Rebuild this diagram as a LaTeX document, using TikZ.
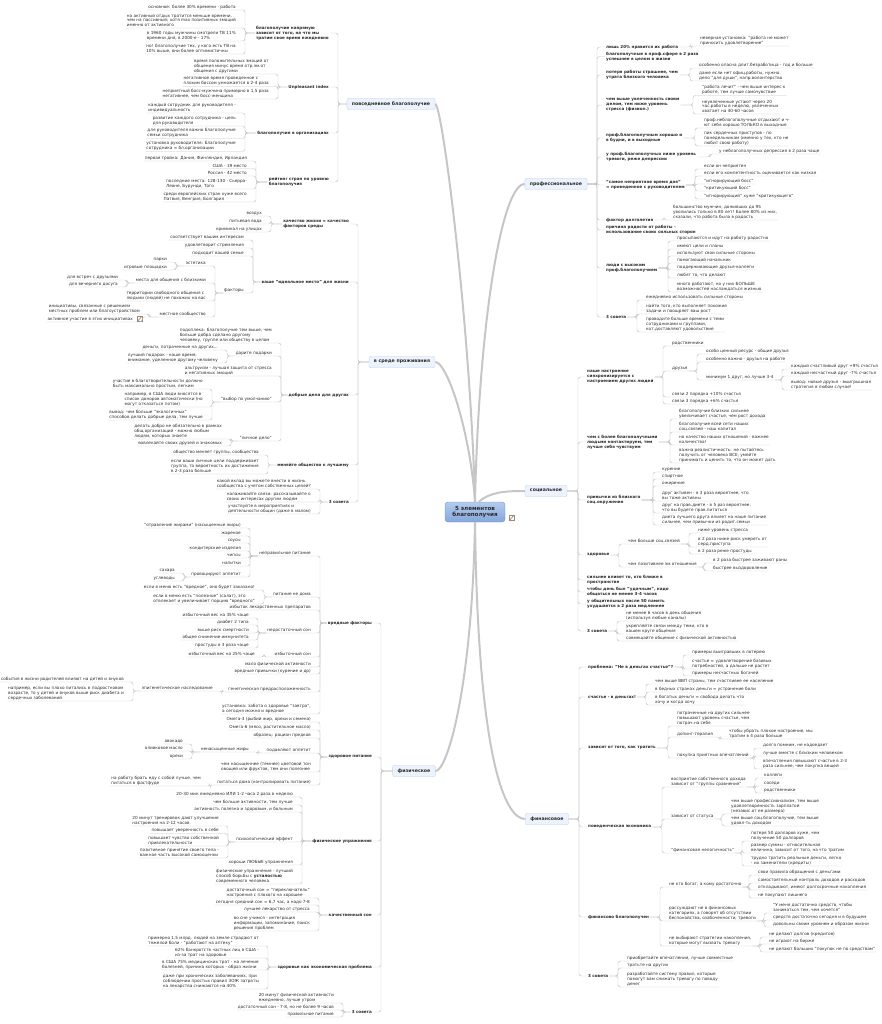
\documentclass[tikz,border=0pt]{standalone}
\usepackage{fontspec}
\setmainfont{DejaVu Sans}
\usepackage{xcolor}
\usepackage{tikz}
\usetikzlibrary{calc}

\definecolor{linkgray}{HTML}{C4C4C4}
\definecolor{trunkgray}{HTML}{C6C6C6}
\definecolor{boxfill}{HTML}{EDF3FC}
\definecolor{boxline}{HTML}{C5D5EE}
\definecolor{roottop}{HTML}{B3CBEF}
\definecolor{rootbot}{HTML}{86A7DB}
\definecolor{rootline}{HTML}{7093CA}
\definecolor{ink}{HTML}{2A2A2A}

\begin{document}
\begin{tikzpicture}[
    x=1pt, y=-1pt,
    leaf/.style={font=\fontsize{4.2}{4.9}\selectfont, text=ink, inner xsep=1pt, inner ysep=0.9pt, align=left},
    topic/.style={leaf, font=\fontsize{4.1}{4.9}\selectfont\bfseries},
    branch/.style={draw=boxline, fill=boxfill, rounded corners=2pt, font=\fontsize{4.7}{5.6}\selectfont\bfseries, text=ink, inner xsep=5pt, minimum height=11.5pt},
    root/.style={draw=rootline, top color=roottop, bottom color=rootbot, rounded corners=3pt, font=\fontsize{5.6}{6.6}\selectfont\bfseries, text=ink, align=center, minimum width=60pt, minimum height=20pt},
    memo/.style={draw=black!45, fill=white, minimum width=4.5pt, minimum height=5pt, inner sep=0pt, path picture={\draw[orange!80!black, line width=0.6pt] (path picture bounding box.south west) -- (path picture bounding box.north east);}},
    link/.style={draw=linkgray, line width=0.45pt},
    trunk/.style={draw=trunkgray, line width=2pt},
    lleaf/.style={rounded corners=2.5pt, to path={-- ([xshift=8pt]\tikztotarget.south east |- \tikztostart) |- (\tikztotarget.south east) -- (\tikztotarget.south west)}},
    rleaf/.style={rounded corners=2.5pt, to path={-- ([xshift=-8pt]\tikztotarget.south west |- \tikztostart) |- (\tikztotarget.south west) -- (\tikztotarget.south east)}},
    ltopic/.style={rounded corners=2.5pt, to path={-- ([xshift=8pt]\tikztotarget.east |- \tikztostart) |- (\tikztotarget.east)}},
    rtopic/.style={rounded corners=2.5pt, to path={-- ([xshift=-8pt]\tikztotarget.west |- \tikztostart) |- (\tikztotarget.west)}}
]
\useasboundingbox (0,0) rectangle (881,1024);

% Nodes: centre and branches
\node[root] (root) at (475,512) {5 элементов\\благополучия};
\node[memo] (memo1) at (511.5,518) {};
\node[branch] (pov) at (391,104) {повседневное благополучие};
\node[branch] (sre) at (402,362) {в среде проживания};
\node[branch] (fiz) at (414,771) {физическое};
\node[branch] (prof) at (556,184) {профессиональное};
\node[branch] (soc) at (546,491) {социальное};
\node[branch] (fin) at (547,819) {финансовое};

% Nodes: повседневное благополучие
\node[topic, anchor=east] (pov1) at (330,33) {благополучие напрямую\\зависит от того, на что мы\\тратим свое время ежедневно};
\node[topic, anchor=east] (pov2) at (330,87) {Unpleasant index};
\node[topic, anchor=east] (pov3) at (330,133) {благополучие в организациях};
\node[topic, anchor=east] (pov4) at (330,182) {рейтинг стран по уровню\\благополучия};
\node[leaf, anchor=south east] (pov1a) at (237,10) {основное: более 30\% времени - работа};
\node[leaf, anchor=south east] (pov1b) at (237,28) {на активный отдых тратится меньше времени,\\чем на пассивный; хотя max позитивных эмоций\\именно от активного};
\node[leaf, anchor=south east] (pov1c) at (237,41) {в 1960 годы мужчины смотрели ТВ 11\%\\времени дня, в 2000-е - 17\%};
\node[leaf, anchor=south east] (pov1d) at (237,54) {но! благополучие тех, у кого есть ТВ на\\10\% выше, они более оптимистичны};
\node[leaf, anchor=south east] (pov2a) at (270,74) {время положительных эмоций от\\общения минус время отр.эм.от\\общения с другими};
\node[leaf, anchor=south east] (pov2b) at (270,86.5) {негативное время проведенное с\\плохим боссом умножается в 2-4 раза};
\node[leaf, anchor=south east] (pov2c) at (270,99) {неприятный босс-мужчина примерно в 1,5 раза\\негативнее, чем босс-женщина};
\node[leaf, anchor=south east] (pov3a) at (237,113) {каждый сотрудник для руководителя -\\индивидуальность};
\node[leaf, anchor=south east] (pov3b) at (237,126) {развитие каждого сотрудника - цель\\для руководителя};
\node[leaf, anchor=south east] (pov3c) at (237,138.5) {для руководителя важно благополучие\\семьи сотрудника};
\node[leaf, anchor=south east] (pov3d) at (237,151.5) {установка руководителя: благополучие\\сотрудника = бл.организации};
\node[leaf, anchor=south east] (pov4a) at (248,161) {первая тройка: Дания, Финляндия, Ирландия};
\node[leaf, anchor=south east] (pov4b) at (248,168.5) {США - 19 место};
\node[leaf, anchor=south east] (pov4c) at (248,176) {Россия - 42 место};
\node[leaf, anchor=south east] (pov4d) at (248,189) {последние места: 128-130 - Сьерра-\\Леоне, Бурунди, Того};
\node[leaf, anchor=south east] (pov4e) at (248,202) {среди европейских стран хуже всего\\Латвия, Венгрия, Болгария};

% Nodes: в среде проживания
\node[topic, anchor=east] (sre1) at (350,224) {качество жизни = качество\\факторов среды};
\node[topic, anchor=east] (sre2) at (350,282) {ваше "идеальное место" для жизни};
\node[topic, anchor=east] (sre3) at (350,395) {добрые дела для других};
\node[topic, anchor=east] (sre4) at (350,465) {меняйте общество к лучшему};
\node[topic, anchor=east] (sre5) at (350,502) {3 совета};
\node[leaf, anchor=south east] (sre1a) at (263,216) {воздух};
\node[leaf, anchor=south east] (sre1b) at (263,224) {питьевая вода};
\node[leaf, anchor=south east] (sre1c) at (263,232) {криминал на улицах};
\node[leaf, anchor=south east] (sre2a) at (245,240) {соответствует вашим интересам};
\node[leaf, anchor=south east] (sre2b) at (245,248) {удовлетворит стремления};
\node[leaf, anchor=south east] (sre2c) at (245,256) {подходит вашей семье};
\node[leaf, anchor=south east] (sre2d) at (245,293) {факторы};
\node[leaf, anchor=south east] (sre2d1) at (207,266) {эстетика};
\node[leaf, anchor=south east] (sre2d2) at (207,283) {места для общения с близкими};
\node[leaf, anchor=south east] (sre2d3) at (207,301) {территории свободного общения с\\людьми (людей) не похожих на вас};
\node[leaf, anchor=south east] (sre2d4) at (207,317) {местное сообщество};
\node[leaf, anchor=south east] (sre2d1a) at (168,262) {парки};
\node[leaf, anchor=south east] (sre2d1b) at (168,270) {игровые площадки};
\node[leaf, anchor=south east] (sre2d2a) at (119,280) {для встреч с друзьями};
\node[leaf, anchor=south east] (sre2d2b) at (119,287) {для вечернего досуга};
\node[leaf, anchor=south east] (sre2d4a) at (141,314) {инициативы, связанные с решением\\местных проблем или благоустройством};
\node[leaf, anchor=south east] (sre2d4b) at (134,322) {активное участие в этих инициативах};
\node[memo] (memo2) at (139.5,319) {};
\node[leaf, anchor=south east] (sre3a) at (273,343) {подоплека: благополучие тем выше, чем\\больше добра сделано другому\\человеку, группе или обществу в целом};
\node[leaf, anchor=south east] (sre3b) at (273,356) {дарите подарки};
\node[leaf, anchor=south east] (sre3c) at (273,376) {альтруизм - лучшая защита от стресса\\и негативных эмоций};
\node[leaf, anchor=south east] (sre3d) at (273,402) {"выбор по умолчанию"};
\node[leaf, anchor=south east] (sre3e) at (273,441) {"личное дело"};
\node[leaf, anchor=south east] (sre3b1) at (219,350) {деньги, потраченные на других...};
\node[leaf, anchor=south east] (sre3b2) at (219,363) {лучший подарок - наше время;\\внимание, уделенное другому человеку};
\node[leaf, anchor=south east] (sre3d1) at (204,389) {участие в благотворительности должно\\быть максимально простым, легким};
\node[leaf, anchor=south east] (sre3d2) at (204,407) {например, в США люди вносятся в\\список доноров автоматически (но\\могут отказаться потом)};
\node[leaf, anchor=south east] (sre3d3) at (204,420) {вывод: чем больше "экологичных"\\способов делать добрые дела, тем лучше};
\node[leaf, anchor=south east] (sre3e1) at (223,439) {делать добро не обязательно в рамках\\общ.организаций - можно любым\\людям, которых знаете};
\node[leaf, anchor=south east] (sre3e2) at (223,446) {вовлекайте своих друзей и знакомых};
\node[leaf, anchor=south east] (sre4a) at (260,455) {общество меняет группы, сообщества};
\node[leaf, anchor=south east] (sre4b) at (260,474) {если ваши личные цели поддерживает\\группа, то вероятность их достижения\\в 2-3 раза больше};
\node[leaf, anchor=south east] (sre5a) at (312,489) {какой вклад вы можете внести в жизнь\\сообщества с учетом собственных целей?};
\node[leaf, anchor=south east] (sre5b) at (312,502) {налаживайте связи: рассказывайте о\\своих интересах другим людям};
\node[leaf, anchor=south east] (sre5c) at (312,514) {участвуйте в мероприятиях и\\деятельности общин (даже в малом)};

% Nodes: физическое
\node[topic, anchor=east] (fiz1) at (373,623) {вредные факторы};
\node[topic, anchor=east] (fiz2) at (373,757) {здоровое питание};
\node[topic, anchor=east] (fiz3) at (373,841) {физические упражнения};
\node[topic, anchor=east] (fiz4) at (373,915) {качественный сон};
\node[topic, anchor=east] (fiz5) at (373,967) {здоровье как экономическая проблема};
\node[topic, anchor=east] (fiz6) at (373,1012) {3 совета};
\node[leaf, anchor=south east] (fiz1a) at (312,556) {неправильное питание};
\node[leaf, anchor=south east] (fiz1b) at (312,597) {питание не дома};
\node[leaf, anchor=south east] (fiz1c) at (312,610) {избыток лекарственных препаратов};
\node[leaf, anchor=south east] (fiz1d) at (312,633) {недостаточный сон};
\node[leaf, anchor=south east] (fiz1e) at (312,657) {избыточный сон};
\node[leaf, anchor=south east] (fiz1f) at (312,667) {мало физической активности};
\node[leaf, anchor=south east] (fiz1g) at (312,674) {вредные привычки (курение и др)};
\node[leaf, anchor=south east] (fiz1h) at (312,692) {генетическая предрасположенность};
\node[leaf, anchor=south east] (fiz1i) at (312,714) {установка: забота о здоровье "завтра",\\а сегодня можно и вредное};
\node[leaf, anchor=south east] (fiz1a1) at (242,528) {"отравление жирами" (насыщенные жиры)};
\node[leaf, anchor=south east] (fiz1a2) at (242,536) {жареное};
\node[leaf, anchor=south east] (fiz1a3) at (242,543) {соусы};
\node[leaf, anchor=south east] (fiz1a4) at (242,551) {кондитерские изделия};
\node[leaf, anchor=south east] (fiz1a5) at (242,558) {чипсы};
\node[leaf, anchor=south east] (fiz1a6) at (242,566) {напитки};
\node[leaf, anchor=south east] (fiz1a7) at (242,577) {провоцируют аппетит};
\node[leaf, anchor=south east] (fiz1a7a) at (176,573) {сахара};
\node[leaf, anchor=south east] (fiz1a7b) at (176,581) {углеводы};
\node[leaf, anchor=south east] (fiz1b1) at (256,590) {если в меню есть "вредное", оно будет заказано!};
\node[leaf, anchor=south east] (fiz1b2) at (256,604) {если в меню есть "полезное" (салат), это\\отвлекает и увеличивает порцию "вредного"};
\node[leaf, anchor=south east] (fiz1d1) at (250,618) {избыточный вес на 35\% чаще};
\node[leaf, anchor=south east] (fiz1d2) at (250,625) {диабет 2 типа};
\node[leaf, anchor=south east] (fiz1d3) at (250,633) {выше риск смертности};
\node[leaf, anchor=south east] (fiz1d4) at (250,640) {общее снижение иммунитета};
\node[leaf, anchor=south east] (fiz1d5) at (250,648) {простуды в 3 раза чаще};
\node[leaf, anchor=south east] (fiz1e1) at (256,657) {избыточный вес на 25\% чаще};
\node[leaf, anchor=south east] (fiz1h1) at (214,691) {эпигенетическое наследование};
\node[leaf, anchor=south east] (fiz1h1a) at (125,682) {события в жизни родителей влияют на детей и внуков};
\node[leaf, anchor=south east] (fiz1h1b) at (125,701) {например, если вы плохо питались в подростковом\\возрасте, то у детей и внуков выше риск диабета и\\сердечных заболеваний};
\node[leaf, anchor=south east] (fiz2a) at (312,722) {Омега-3 (рыбий жир, орехи и семена)};
\node[leaf, anchor=south east] (fiz2b) at (312,730) {Омега-6 (мясо, растительное масло)};
\node[leaf, anchor=south east] (fiz2c) at (312,738) {образец: рацион предков};
\node[leaf, anchor=south east] (fiz2d) at (312,753) {подавляют аппетит};
\node[leaf, anchor=south east] (fiz2e) at (312,772) {чем насыщеннее (темнее) цветовой тон\\овощей или фруктов, тем они полезнее};
\node[leaf, anchor=south east] (fiz2f) at (312,785) {питаться дома (контролировать питание)};
\node[leaf, anchor=south east] (fiz2d1) at (250,752) {ненасыщенные жиры};
\node[leaf, anchor=south east] (fiz2d1a) at (184,744) {авокадо};
\node[leaf, anchor=south east] (fiz2d1b) at (184,751) {оливковое масло};
\node[leaf, anchor=south east] (fiz2d1c) at (184,759) {орехи};
\node[leaf, anchor=south east] (fiz2f1) at (202,786) {на работу брать еду с собой лучше, чем\\питаться в фастфуде};
\node[leaf, anchor=south east] (fiz3a) at (294,797) {20-30 мин ежедневно ИЛИ 1-2 часа 2 раза в неделю};
\node[leaf, anchor=south east] (fiz3b) at (294,805) {чем больше активности, тем лучше};
\node[leaf, anchor=south east] (fiz3c) at (294,812) {активность полезна и здоровым, и больным};
\node[leaf, anchor=south east] (fiz3d) at (294,842) {психологический эффект};
\node[leaf, anchor=south east] (fiz3e) at (294,865) {хороши ЛЮБЫЕ упражнения};
\node[leaf, anchor=south east] (fiz3f) at (294,884) {физические упражнения - лучший\\способ борьбы с \textbf{усталостью}\\современного человека};
\node[leaf, anchor=south east] (fiz3d1) at (220,826) {20 минут тренировок дают улучшение\\настроения на 2-12 часов};
\node[leaf, anchor=south east] (fiz3d2) at (220,833.5) {повышает уверенность в себе};
\node[leaf, anchor=south east] (fiz3d3) at (220,846) {повышает чувство собственной\\привлекательности};
\node[leaf, anchor=south east] (fiz3d4) at (220,858) {позитивное принятие своего тела -\\важная часть высокой самооценки};
\node[leaf, anchor=south east] (fiz4a) at (311,898) {достаточный сон = "переключатель"\\настроения с плохого на хорошее};
\node[leaf, anchor=south east] (fiz4b) at (311,905) {сегодня средний сон = 6,7 час, а надо 7-8};
\node[leaf, anchor=south east] (fiz4c) at (311,912) {лучшее лекарство от стресса};
\node[leaf, anchor=south east] (fiz4d) at (311,931) {во сне учимся - интеграция\\информации, запоминание, поиск\\решения проблем};
\node[leaf, anchor=south east] (fiz5a) at (260,946) {примерно 1,5 млрд. людей на земле страдают от\\тяжелой боли - "работают на аптеку"};
\node[leaf, anchor=south east] (fiz5b) at (260,958) {62\% банкротств частных лиц в США -\\из-за трат на здоровье};
\node[leaf, anchor=south east] (fiz5c) at (260,970) {в США 75\% медицинских трат - на лечение\\болезней, причина которых - образ жизни};
\node[leaf, anchor=south east] (fiz5d) at (260,989) {даже при хронических заболеваниях, при\\соблюдении простых правил ЗОЖ затраты\\на лекарства снижаются на 40\%};
\node[leaf, anchor=south east] (fiz6a) at (335,1003) {20 минут физической активности\\ежедневно, лучше утром};
\node[leaf, anchor=south east] (fiz6b) at (335,1010) {достаточный сон - 7-8, но не более 9 часов};
\node[leaf, anchor=south east] (fiz6c) at (335,1017) {правильное питание};

% Nodes: профессиональное
\node[topic, anchor=west] (prof1) at (605,47) {лишь 20\% нравится их работа};
\node[topic, anchor=west] (prof2) at (605,56.5) {благополучные в проф.сфере в 2 раза\\успешнее в целом в жизни};
\node[topic, anchor=west] (prof3) at (605,75) {потеря работы страшнее, чем\\утрата близкого человека};
\node[topic, anchor=west] (prof4) at (605,105) {чем выше увлеченность своим\\делом, тем ниже уровень\\стресса (физиол.)};
\node[topic, anchor=west] (prof5) at (605,138) {проф.благополучным хорошо и\\в будни, и в выходные};
\node[topic, anchor=west] (prof6) at (605,157) {у проф.благополучных ниже уровень\\тревоги, реже депрессии};
\node[topic, anchor=west] (prof7) at (605,185) {"самое неприятное время дня"\\= проведенное с руководителем};
\node[topic, anchor=west] (prof8) at (605,220) {фактор долголетия};
\node[topic, anchor=west] (prof9) at (605,230) {причина радости от работы -\\использование своих сильных сторон};
\node[topic, anchor=west] (prof10) at (605,268) {люди с высоким\\проф.благополучием};
\node[topic, anchor=west] (prof11) at (605,317) {3 совета};
\node[leaf, anchor=south west] (prof1a) at (699,46) {неверная установка: "работа не может\\приносить удовлетворение"};
\node[leaf, anchor=south west] (prof3a) at (698,68) {особенно опасна длит.безработица - год и больше};
\node[leaf, anchor=south west] (prof3b) at (698,81) {даже если нет офиц.работы, нужно\\дело "для души", напр.волонтерство};
\node[leaf, anchor=south west] (prof4a) at (701,95.5) {"работа лечит" - чем выше интерес к\\работе, тем лучше самочувствие};
\node[leaf, anchor=south west] (prof4b) at (701,114) {неувлеченные устают через 20\\час.работы в неделю, увлеченных\\хватает на 40-60 часов};
\node[leaf, anchor=south west] (prof5a) at (703,128) {проф.неблагополучные отдыхают и ч-\\ют себя хорошо ТОЛЬКО в выходные};
\node[leaf, anchor=south west] (prof5b) at (703,146) {пик сердечных приступов - по\\понедельникам (именно у тех, кто не\\любит свою работу)};
\node[leaf, anchor=south west] (prof6a) at (718,154) {у неблагополучных депрессия в 2 раза чаще};
\node[leaf, anchor=south west] (prof7a) at (703,169) {если он неприятен};
\node[leaf, anchor=south west] (prof7b) at (703,176) {если его компетентность оценивается как низкая};
\node[leaf, anchor=south west] (prof7c) at (703,184) {"игнорирующий босс"};
\node[leaf, anchor=south west] (prof7d) at (703,191) {"критикующий босс"};
\node[leaf, anchor=south west] (prof7e) at (703,199) {"игнорирующий" хуже "критикующего"};
\node[leaf, anchor=south west] (prof8a) at (672,220) {большинство мужчин, доживших до 95\\уволились только в 80 лет! Более 80\% из них,\\сказали, что работа была в радость};
\node[leaf, anchor=south west] (prof10a) at (676,241) {просыпаются и идут на работу радостно};
\node[leaf, anchor=south west] (prof10b) at (676,249) {имеют цели и планы};
\node[leaf, anchor=south west] (prof10c) at (676,256) {используют свои сильные стороны};
\node[leaf, anchor=south west] (prof10d) at (676,263) {помогающий начальник};
\node[leaf, anchor=south west] (prof10e) at (676,270) {поддерживающие друзья-коллеги};
\node[leaf, anchor=south west] (prof10f) at (676,278) {любят то, что делают};
\node[leaf, anchor=south west] (prof10g) at (676,292) {много работают, но у них БОЛЬШЕ\\возможностей наслаждаться жизнью};
\node[leaf, anchor=south west] (prof11a) at (645,300) {ежедневно использовать сильные стороны};
\node[leaf, anchor=south west] (prof11b) at (645,314) {найти того, кто выполняет похожие\\задачи и поощряет ваш рост};
\node[leaf, anchor=south west] (prof11c) at (645,332) {проводите больше времени с теми\\сотрудниками и группами,\\кот.доставляют удовольствие};

% Nodes: социальное
\node[topic, anchor=west] (soc1) at (586,377) {наше настроение\\синхронизируется с\\настроением других людей};
\node[topic, anchor=west] (soc2) at (586,442) {чем с более благополучными\\людьми контактируем, тем\\лучше себя чувствуем};
\node[topic, anchor=west] (soc3) at (586,500) {привычки из близкого\\соц.окружения};
\node[topic, anchor=west] (soc4) at (586,555) {здоровье};
\node[topic, anchor=west] (soc5) at (586,580) {сильнее влияет то, кто ближе в\\пространстве};
\node[topic, anchor=west] (soc6) at (586,592) {чтобы день был "удачным", надо\\общаться не менее 3-4 часов};
\node[topic, anchor=west] (soc7) at (586,604) {у общительных после 50 память\\ухудшается в 2 раза медленнее};
\node[topic, anchor=west] (soc8) at (586,631) {3 совета};
\node[leaf, anchor=south west] (soc1a) at (671,346) {родственники};
\node[leaf, anchor=south west] (soc1b) at (671,371) {друзья};
\node[leaf, anchor=south west] (soc1c) at (671,397) {связи 2 порядка +10\% счастья};
\node[leaf, anchor=south west] (soc1d) at (671,404) {связи 3 порядка +6\% счастья};
\node[leaf, anchor=south west] (soc1b1) at (705,354) {особо ценный ресурс - общие друзья};
\node[leaf, anchor=south west] (soc1b2) at (705,362) {особенно важно - друзья на работе};
\node[leaf, anchor=south west] (soc1b3) at (705,380) {минимум 1 друг, но лучше 3-4};
\node[leaf, anchor=south west] (soc1b3a) at (790,369) {каждый счастливый друг +9\% счастья};
\node[leaf, anchor=south west] (soc1b3b) at (790,376) {каждый несчастный друг -7\% счастья};
\node[leaf, anchor=south west] (soc1b3c) at (790,390) {вывод: новые друзья - выигрышная\\стратегия в любом случае!};
\node[leaf, anchor=south west] (soc2a) at (678,419) {благополучие близких сильнее\\увеличивает счастье, чем рост дохода};
\node[leaf, anchor=south west] (soc2b) at (678,432) {благополучие всей сети наших\\соц.связей - наш капитал};
\node[leaf, anchor=south west] (soc2c) at (678,445) {но качество наших отношений - важнее\\количества!};
\node[leaf, anchor=south west] (soc2d) at (678,463) {важна реалистичность: не пытайтесь\\получить от человека ВСЕ, умейте\\принимать и ценить то, что он может дать};
\node[leaf, anchor=south west] (soc3a) at (661,472) {курение};
\node[leaf, anchor=south west] (soc3b) at (661,479) {спиртное};
\node[leaf, anchor=south west] (soc3c) at (661,486) {ожирение};
\node[leaf, anchor=south west] (soc3d) at (661,501) {друг активен - в 3 раза вероятнее, что\\вы тоже активны};
\node[leaf, anchor=south west] (soc3e) at (661,513) {друг на прав.диете - в 5 раз вероятнее,\\что вы будете прав.питаться};
\node[leaf, anchor=south west] (soc3f) at (661,525) {диета лучшего друга влияет на наше питание\\сильнее, чем привычки из родит.семьи};
\node[leaf, anchor=south west] (soc4a) at (627,544) {чем больше соц.связей};
\node[leaf, anchor=south west] (soc4b) at (627,567) {чем позитивнее эм.отношения};
\node[leaf, anchor=south west] (soc4a1) at (697,533) {ниже уровень стресса};
\node[leaf, anchor=south west] (soc4a2) at (697,547) {в 2 раза ниже риск умереть от\\серд.приступа};
\node[leaf, anchor=south west] (soc4a3) at (697,554) {в 2 раза реже простуды};
\node[leaf, anchor=south west] (soc4b1) at (712,563) {в 2 раза быстрее заживают раны};
\node[leaf, anchor=south west] (soc4b2) at (712,571) {быстрее выздоровление};
\node[leaf, anchor=south west] (soc8a) at (625,621) {не менее 6 часов в день общения\\(используя любые каналы)};
\node[leaf, anchor=south west] (soc8b) at (625,634) {укрепляйте связи между теми, кто в\\вашем круге общения};
\node[leaf, anchor=south west] (soc8c) at (625,641) {совмещайте общение с физической активностью};

% Nodes: финансовое
\node[topic, anchor=west] (fin1) at (587,667) {проблема: "Не в деньгах счастье"?};
\node[topic, anchor=west] (fin2) at (587,697) {счастье - в деньгах!};
\node[topic, anchor=west] (fin3) at (587,748) {зависит от того, как тратить};
\node[topic, anchor=west] (fin4) at (587,827) {поведенческая экономика};
\node[topic, anchor=west] (fin5) at (587,917) {финансово благополучен};
\node[topic, anchor=west] (fin6) at (587,976) {3 совета};
\node[leaf, anchor=south west] (fin1a) at (691,655) {примеры выигравших в лотерею};
\node[leaf, anchor=south west] (fin1b) at (691,669) {счастье = удовлетворение базовых\\потребностей, а дальше не растет};
\node[leaf, anchor=south west] (fin1c) at (691,676) {примеры несчастных богачей};
\node[leaf, anchor=south west] (fin2a) at (654,684) {чем выше ВВП страны, тем счастливее ее население};
\node[leaf, anchor=south west] (fin2b) at (654,692) {в бедных странах деньги = устранение боли};
\node[leaf, anchor=south west] (fin2c) at (654,705) {в богатых деньги = свобода делать что\\хочу и когда хочу};
\node[leaf, anchor=south west] (fin3a) at (676,726) {потраченные на других сильнее\\повышают уровень счастья, чем\\потрач.на себя};
\node[leaf, anchor=south west] (fin3b) at (676,737) {допинг-терапия};
\node[leaf, anchor=south west] (fin3c) at (676,758) {покупка приятных впечатлений};
\node[leaf, anchor=south west] (fin3b1) at (728,739) {чтобы убрать плохое настроение, мы\\тратим в 4 раза больше};
\node[leaf, anchor=south west] (fin3c1) at (762,748) {долго помним, не надоедает};
\node[leaf, anchor=south west] (fin3c2) at (762,756) {лучше вместе с близким человеком};
\node[leaf, anchor=south west] (fin3c3) at (762,769) {впечатления повышают счастье в 2-3\\раза сильнее, чем покупка вещей};
\node[leaf, anchor=south west] (fin4a) at (670,787) {восприятие собственного дохода\\зависит от "группы сравнения"};
\node[leaf, anchor=south west] (fin4b) at (670,819) {зависит от статуса};
\node[leaf, anchor=south west] (fin4c) at (670,853) {"финансовая нелогичность"};
\node[leaf, anchor=south west] (fin4a1) at (763,778) {коллеги};
\node[leaf, anchor=south west] (fin4a2) at (763,786) {соседи};
\node[leaf, anchor=south west] (fin4a3) at (763,793) {родственники};
\node[leaf, anchor=south west] (fin4b1) at (730,814) {чем выше профессионализм, тем выше\\удовлетворенность зарплатой\\(независ.от ее размера)};
\node[leaf, anchor=south west] (fin4b2) at (730,826) {чем выше соц.благополучие, тем выше\\удовл-ть доходом};
\node[leaf, anchor=south west] (fin4c1) at (750,841) {потеря 50 долларов хуже, чем\\получение 50 долларов};
\node[leaf, anchor=south west] (fin4c2) at (750,853) {размер суммы - относительная\\величина, зависит от того, на что тратим};
\node[leaf, anchor=south west] (fin4c3) at (750,866) {трудно тратить реальные деньги, легко\\- их заменители (кредиты)};
\node[leaf, anchor=south west] (fin5a) at (668,887) {не кто богат, а кому достаточно};
\node[leaf, anchor=south west] (fin5b) at (668,921) {рассуждают не в финансовых\\категориях, а говорят об отсутствии\\беспокойства, озабоченности, тревоги};
\node[leaf, anchor=south west] (fin5c) at (668,946) {не выбирают стратегии накопления,\\которые могут вызвать тревогу};
\node[leaf, anchor=south west] (fin5a1) at (757,875) {свои правила обращения с деньгами};
\node[leaf, anchor=south west] (fin5a2) at (757,883) {самостоятельный контроль доходов и расходов};
\node[leaf, anchor=south west] (fin5a3) at (757,890) {откладывают, имеют долгосрочные накопления};
\node[leaf, anchor=south west] (fin5a4) at (757,898) {не покупают лишнего};
\node[leaf, anchor=south west] (fin5b1) at (772,913) {"У меня достаточно средств, чтобы\\заниматься тем, чем хочется"};
\node[leaf, anchor=south west] (fin5b2) at (772,920) {средств достаточно сегодня и в будущем};
\node[leaf, anchor=south west] (fin5b3) at (772,927) {довольны своим уровнем и образом жизни};
\node[leaf, anchor=south west] (fin5c1) at (768,937) {не делают долгов (кредитов)};
\node[leaf, anchor=south west] (fin5c2) at (768,944) {не играют на бирже};
\node[leaf, anchor=south west] (fin5c3) at (768,952) {не делают больших "покупок не по средствам"};
\node[leaf, anchor=south west] (fin6a) at (626,961) {приобретайте впечатления, лучше совместные};
\node[leaf, anchor=south west] (fin6b) at (626,968) {тратьте на других};
\node[leaf, anchor=south west] (fin6c) at (626,987) {разработайте систему правил, которые\\помогут вам снижать тревогу по поводу\\денег};

% Connections: trunks
\draw[trunk] (root.north) .. controls (470,320) and (442,104) .. (pov.east);
\draw[trunk] (root.north) .. controls (470,430) and (447,362) .. (sre.east);
\draw[trunk] (root.north) .. controls (479,320) and (502,184) .. (prof.west);
\draw[trunk] (root.70) .. controls (490,492) and (505,491) .. (soc.west);
\draw[trunk] (root.south) .. controls (472,690) and (447,771) .. (fiz.east);
\draw[trunk] (root.south) .. controls (478,760) and (505,819) .. (fin.west);

% Connections: left
\draw[link] (pov.west) edge[ltopic] (pov1) edge[ltopic] (pov2) edge[ltopic] (pov3) edge[ltopic] (pov4);
\draw[link] (pov1.west) edge[lleaf] (pov1a) edge[lleaf] (pov1b) edge[lleaf] (pov1c) edge[lleaf] (pov1d);
\draw[link] (pov2.west) edge[lleaf] (pov2a) edge[lleaf] (pov2b) edge[lleaf] (pov2c);
\draw[link] (pov3.west) edge[lleaf] (pov3a) edge[lleaf] (pov3b) edge[lleaf] (pov3c) edge[lleaf] (pov3d);
\draw[link] (pov4.west) edge[lleaf] (pov4a) edge[lleaf] (pov4b) edge[lleaf] (pov4c) edge[lleaf] (pov4d) edge[lleaf] (pov4e);
\draw[link] (sre.west) edge[ltopic] (sre1) edge[ltopic] (sre2) edge[ltopic] (sre3) edge[ltopic] (sre4) edge[ltopic] (sre5);
\draw[link] (sre1.west) edge[lleaf] (sre1a) edge[lleaf] (sre1b) edge[lleaf] (sre1c);
\draw[link] (sre2.west) edge[lleaf] (sre2a) edge[lleaf] (sre2b) edge[lleaf] (sre2c) edge[lleaf] (sre2d);
\draw[link] (sre2d.south west) edge[lleaf] (sre2d1) edge[lleaf] (sre2d2) edge[lleaf] (sre2d3) edge[lleaf] (sre2d4);
\draw[link] (sre2d1.south west) edge[lleaf] (sre2d1a) edge[lleaf] (sre2d1b);
\draw[link] (sre2d2.south west) edge[lleaf] (sre2d2a) edge[lleaf] (sre2d2b);
\draw[link] (sre2d4.south west) edge[lleaf] (sre2d4a) edge[lleaf] (sre2d4b);
\draw[link] (sre3.west) edge[lleaf] (sre3a) edge[lleaf] (sre3b) edge[lleaf] (sre3c) edge[lleaf] (sre3d) edge[lleaf] (sre3e);
\draw[link] (sre3b.south west) edge[lleaf] (sre3b1) edge[lleaf] (sre3b2);
\draw[link] (sre3d.south west) edge[lleaf] (sre3d1) edge[lleaf] (sre3d2) edge[lleaf] (sre3d3);
\draw[link] (sre3e.south west) edge[lleaf] (sre3e1) edge[lleaf] (sre3e2);
\draw[link] (sre4.west) edge[lleaf] (sre4a) edge[lleaf] (sre4b);
\draw[link] (sre5.west) edge[lleaf] (sre5a) edge[lleaf] (sre5b) edge[lleaf] (sre5c);
\draw[link] (fiz.west) edge[ltopic] (fiz1) edge[ltopic] (fiz2) edge[ltopic] (fiz3) edge[ltopic] (fiz4) edge[ltopic] (fiz5) edge[ltopic] (fiz6);
\draw[link] (fiz1.west) edge[lleaf] (fiz1a) edge[lleaf] (fiz1b) edge[lleaf] (fiz1c) edge[lleaf] (fiz1d) edge[lleaf] (fiz1e) edge[lleaf] (fiz1f) edge[lleaf] (fiz1g) edge[lleaf] (fiz1h) edge[lleaf] (fiz1i);
\draw[link] (fiz1a.south west) edge[lleaf] (fiz1a1) edge[lleaf] (fiz1a2) edge[lleaf] (fiz1a3) edge[lleaf] (fiz1a4) edge[lleaf] (fiz1a5) edge[lleaf] (fiz1a6) edge[lleaf] (fiz1a7);
\draw[link] (fiz1a7.south west) edge[lleaf] (fiz1a7a) edge[lleaf] (fiz1a7b);
\draw[link] (fiz1b.south west) edge[lleaf] (fiz1b1) edge[lleaf] (fiz1b2);
\draw[link] (fiz1d.south west) edge[lleaf] (fiz1d1) edge[lleaf] (fiz1d2) edge[lleaf] (fiz1d3) edge[lleaf] (fiz1d4) edge[lleaf] (fiz1d5);
\draw[link] (fiz1e.south west) edge[lleaf] (fiz1e1);
\draw[link] (fiz1h.south west) edge[lleaf] (fiz1h1);
\draw[link] (fiz1h1.south west) edge[lleaf] (fiz1h1a) edge[lleaf] (fiz1h1b);
\draw[link] (fiz2.west) edge[lleaf] (fiz2a) edge[lleaf] (fiz2b) edge[lleaf] (fiz2c) edge[lleaf] (fiz2d) edge[lleaf] (fiz2e) edge[lleaf] (fiz2f);
\draw[link] (fiz2d.south west) edge[lleaf] (fiz2d1);
\draw[link] (fiz2d1.south west) edge[lleaf] (fiz2d1a) edge[lleaf] (fiz2d1b) edge[lleaf] (fiz2d1c);
\draw[link] (fiz2f.south west) edge[lleaf] (fiz2f1);
\draw[link] (fiz3.west) edge[lleaf] (fiz3a) edge[lleaf] (fiz3b) edge[lleaf] (fiz3c) edge[lleaf] (fiz3d) edge[lleaf] (fiz3e) edge[lleaf] (fiz3f);
\draw[link] (fiz3d.south west) edge[lleaf] (fiz3d1) edge[lleaf] (fiz3d2) edge[lleaf] (fiz3d3) edge[lleaf] (fiz3d4);
\draw[link] (fiz4.west) edge[lleaf] (fiz4a) edge[lleaf] (fiz4b) edge[lleaf] (fiz4c) edge[lleaf] (fiz4d);
\draw[link] (fiz5.west) edge[lleaf] (fiz5a) edge[lleaf] (fiz5b) edge[lleaf] (fiz5c) edge[lleaf] (fiz5d);
\draw[link] (fiz6.west) edge[lleaf] (fiz6a) edge[lleaf] (fiz6b) edge[lleaf] (fiz6c);

% Connections: right
\draw[link] (prof.east) edge[rtopic] (prof1) edge[rtopic] (prof2) edge[rtopic] (prof3) edge[rtopic] (prof4) edge[rtopic] (prof5) edge[rtopic] (prof6) edge[rtopic] (prof7) edge[rtopic] (prof8) edge[rtopic] (prof9) edge[rtopic] (prof10) edge[rtopic] (prof11);
\draw[link] (prof1.east) edge[rleaf] (prof1a);
\draw[link] (prof3.east) edge[rleaf] (prof3a) edge[rleaf] (prof3b);
\draw[link] (prof4.east) edge[rleaf] (prof4a) edge[rleaf] (prof4b);
\draw[link] (prof5.east) edge[rleaf] (prof5a) edge[rleaf] (prof5b);
\draw[link] (prof6.east) edge[rleaf] (prof6a);
\draw[link] (prof7.east) edge[rleaf] (prof7a) edge[rleaf] (prof7b) edge[rleaf] (prof7c) edge[rleaf] (prof7d) edge[rleaf] (prof7e);
\draw[link] (prof8.east) edge[rleaf] (prof8a);
\draw[link] (prof10.east) edge[rleaf] (prof10a) edge[rleaf] (prof10b) edge[rleaf] (prof10c) edge[rleaf] (prof10d) edge[rleaf] (prof10e) edge[rleaf] (prof10f) edge[rleaf] (prof10g);
\draw[link] (prof11.east) edge[rleaf] (prof11a) edge[rleaf] (prof11b) edge[rleaf] (prof11c);
\draw[link] (soc.east) edge[rtopic] (soc1) edge[rtopic] (soc2) edge[rtopic] (soc3) edge[rtopic] (soc4) edge[rtopic] (soc5) edge[rtopic] (soc6) edge[rtopic] (soc7) edge[rtopic] (soc8);
\draw[link] (soc1.east) edge[rleaf] (soc1a) edge[rleaf] (soc1b) edge[rleaf] (soc1c) edge[rleaf] (soc1d);
\draw[link] (soc1b.south east) edge[rleaf] (soc1b1) edge[rleaf] (soc1b2) edge[rleaf] (soc1b3);
\draw[link] (soc1b3.south east) edge[rleaf] (soc1b3a) edge[rleaf] (soc1b3b) edge[rleaf] (soc1b3c);
\draw[link] (soc2.east) edge[rleaf] (soc2a) edge[rleaf] (soc2b) edge[rleaf] (soc2c) edge[rleaf] (soc2d);
\draw[link] (soc3.east) edge[rleaf] (soc3a) edge[rleaf] (soc3b) edge[rleaf] (soc3c) edge[rleaf] (soc3d) edge[rleaf] (soc3e) edge[rleaf] (soc3f);
\draw[link] (soc4.east) edge[rleaf] (soc4a) edge[rleaf] (soc4b);
\draw[link] (soc4a.south east) edge[rleaf] (soc4a1) edge[rleaf] (soc4a2) edge[rleaf] (soc4a3);
\draw[link] (soc4b.south east) edge[rleaf] (soc4b1) edge[rleaf] (soc4b2);
\draw[link] (soc8.east) edge[rleaf] (soc8a) edge[rleaf] (soc8b) edge[rleaf] (soc8c);
\draw[link] (fin.east) edge[rtopic] (fin1) edge[rtopic] (fin2) edge[rtopic] (fin3) edge[rtopic] (fin4) edge[rtopic] (fin5) edge[rtopic] (fin6);
\draw[link] (fin1.east) edge[rleaf] (fin1a) edge[rleaf] (fin1b) edge[rleaf] (fin1c);
\draw[link] (fin2.east) edge[rleaf] (fin2a) edge[rleaf] (fin2b) edge[rleaf] (fin2c);
\draw[link] (fin3.east) edge[rleaf] (fin3a) edge[rleaf] (fin3b) edge[rleaf] (fin3c);
\draw[link] (fin3b.south east) edge[rleaf] (fin3b1);
\draw[link] (fin3c.south east) edge[rleaf] (fin3c1) edge[rleaf] (fin3c2) edge[rleaf] (fin3c3);
\draw[link] (fin4.east) edge[rleaf] (fin4a) edge[rleaf] (fin4b) edge[rleaf] (fin4c);
\draw[link] (fin4a.south east) edge[rleaf] (fin4a1) edge[rleaf] (fin4a2) edge[rleaf] (fin4a3);
\draw[link] (fin4b.south east) edge[rleaf] (fin4b1) edge[rleaf] (fin4b2);
\draw[link] (fin4c.south east) edge[rleaf] (fin4c1) edge[rleaf] (fin4c2) edge[rleaf] (fin4c3);
\draw[link] (fin5.east) edge[rleaf] (fin5a) edge[rleaf] (fin5b) edge[rleaf] (fin5c);
\draw[link] (fin5a.south east) edge[rleaf] (fin5a1) edge[rleaf] (fin5a2) edge[rleaf] (fin5a3) edge[rleaf] (fin5a4);
\draw[link] (fin5b.south east) edge[rleaf] (fin5b1) edge[rleaf] (fin5b2) edge[rleaf] (fin5b3);
\draw[link] (fin5c.south east) edge[rleaf] (fin5c1) edge[rleaf] (fin5c2) edge[rleaf] (fin5c3);
\draw[link] (fin6.east) edge[rleaf] (fin6a) edge[rleaf] (fin6b) edge[rleaf] (fin6c);

\end{tikzpicture}
\end{document}
